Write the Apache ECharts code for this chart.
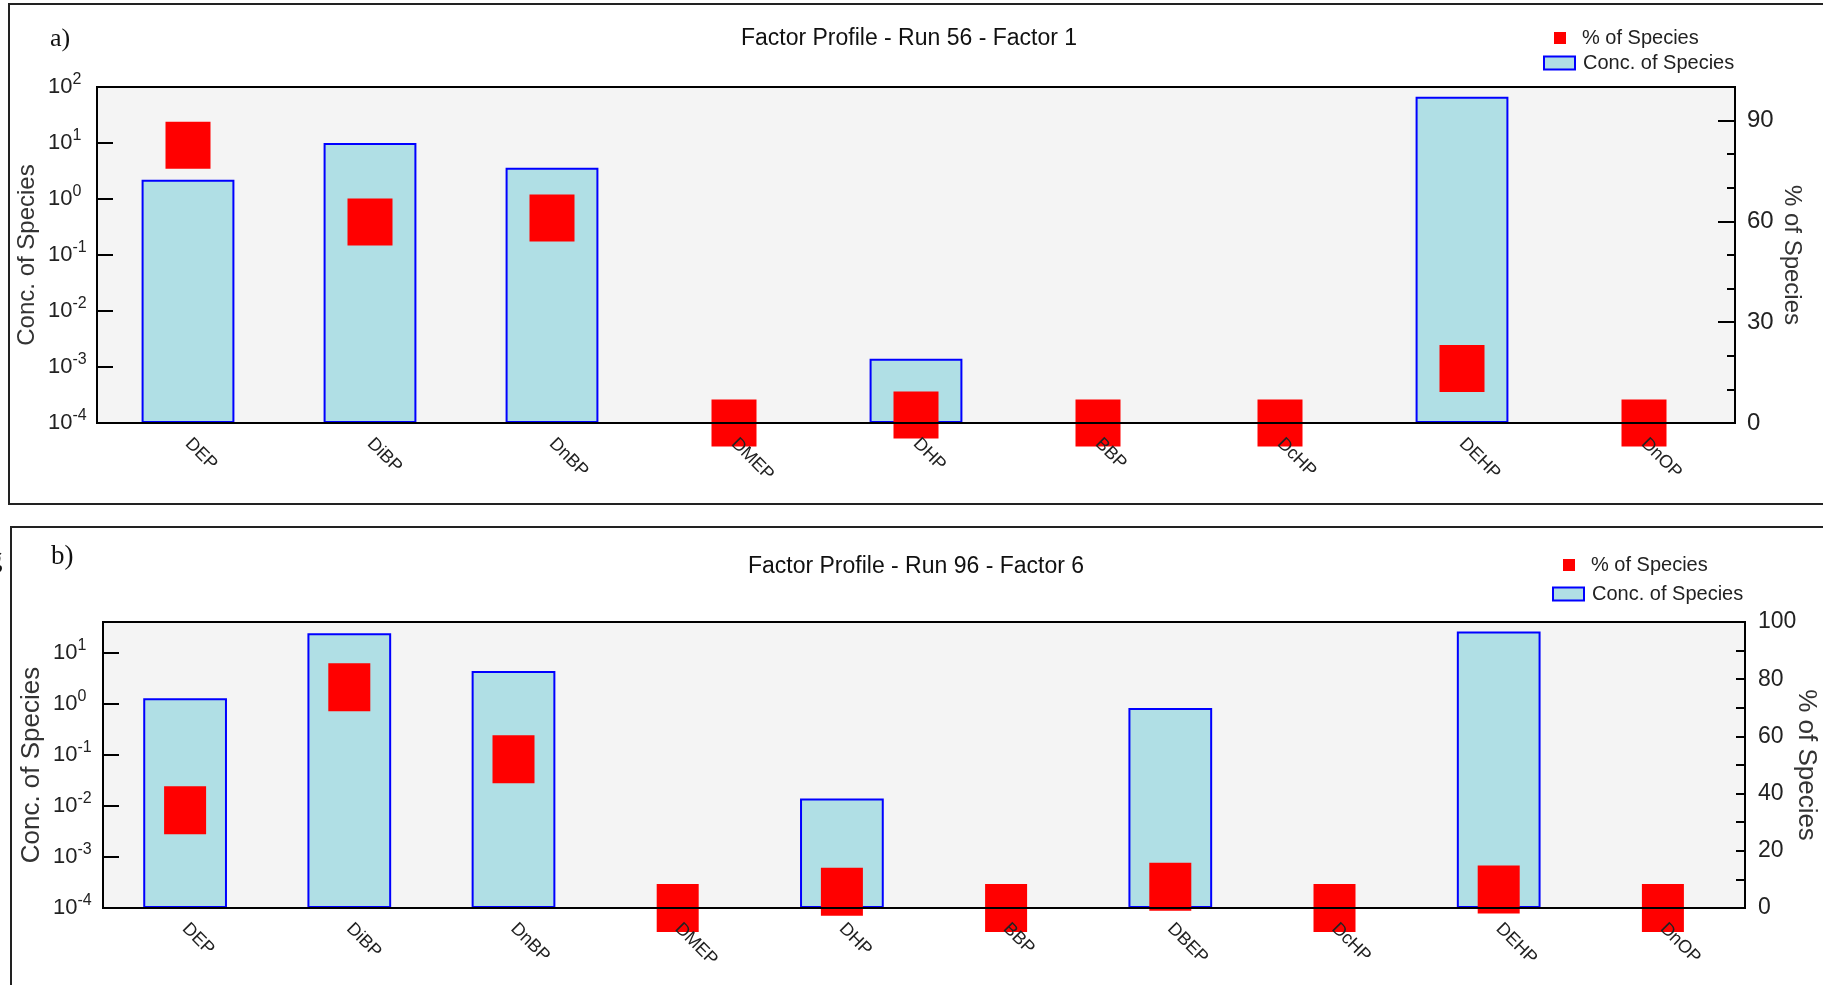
<!DOCTYPE html>
<html>
<head>
<meta charset="utf-8">
<script src="https://cdn.jsdelivr.net/npm/echarts@6/dist/echarts.min.js"></script>
<style>
html, body { margin: 0; padding: 0; background: #fff; }
#main { width: 1823px; height: 985px; }
</style>
</head>
<body>
<div id="main"></div>
<script>
// panel a) Run 56 - Factor 1
var speciesA = ['DEP', 'DiBP', 'DnBP', 'DMEP', 'DHP', 'BBP', 'DcHP', 'DEHP', 'DnOP'];
var concA = [2.2, 10, 3.6, null, 0.0014, null, null, 67, null];
var pctA = [82.7, 59.8, 61.0, 0, 2.4, 0, 0, 16.2, 0];

// panel b) Run 96 - Factor 6
var speciesB = ['DEP', 'DiBP', 'DnBP', 'DMEP', 'DHP', 'BBP', 'DBEP', 'DcHP', 'DEHP', 'DnOP'];
var concB = [1.28, 24, 4.4, null, 0.014, null, 0.83, null, 26, null];
var pctB = [34.2, 77.2, 52.0, 0, 5.7, 0, 7.4, 0, 6.5, 0];

var titleA = 'Factor Profile - Run 56 - Factor 1';
var titleB = 'Factor Profile - Run 96 - Factor 6';

var FONT = 'Liberation Sans';
var myChart = echarts.init(document.getElementById('main'));

// 10^n labels with a superscript exponent
function powLabel(v) {
    var e = Math.log(v) / Math.LN10;
    var r = Math.round(e);
    if (Math.abs(e - r) > 1e-6) return '';
    return '{b|10}{s|' + r + '}';
}

function catAxes(grid, data) {
    return [{
        type: 'category', gridIndex: grid, data: data, position: 'bottom', z: 10,
        axisLine: { lineStyle: { color: '#000', width: 2 } },
        axisTick: { inside: true, length: 9, alignWithLabel: true, interval: 0, lineStyle: { color: '#000', width: 1.5 } },
        axisLabel: { rotate: -45, interval: 0, fontSize: 18, color: '#222', margin: 18, fontFamily: FONT },
        splitLine: { show: false }
    }, {
        type: 'category', gridIndex: grid, data: data, position: 'bottom', z: 10,
        axisLine: { show: false },
        axisTick: { inside: false, length: 9, alignWithLabel: true, interval: 0, lineStyle: { color: '#000', width: 1.5 } },
        axisLabel: { show: false },
        splitLine: { show: false }
    }];
}

function logAxis(grid, max, nameSize, labelMargin) {
    return {
        type: 'log', logBase: 10, gridIndex: grid, position: 'left',
        min: 0.0001, max: max, startValue: 0.0001,
        name: 'Conc. of Species', nameLocation: 'middle', nameGap: 58, nameMoveOverlap: false,
        nameTextStyle: { fontSize: nameSize, color: '#333', fontFamily: FONT },
        axisLine: { show: true, lineStyle: { color: '#000', width: 2 } },
        axisTick: { show: true, inside: true, length: 16, lineStyle: { color: '#000', width: 2 } },
        axisLabel: {
            formatter: powLabel, margin: labelMargin, align: 'left', showMinLabel: true, showMaxLabel: true,
            rich: {
                b: { fontSize: 22, lineHeight: 30, color: '#222', fontFamily: FONT },
                s: { fontSize: 16, lineHeight: 15, verticalAlign: 'top', color: '#222', fontFamily: FONT }
            }
        },
        splitLine: { show: false }
    };
}

function pctAxis(grid, step, nameSize, nameGap, tickLen) {
    return {
        type: 'value', gridIndex: grid, position: 'right',
        min: 0, max: 100, interval: step,
        name: '% of Species', nameLocation: 'middle', nameRotate: -90, nameGap: nameGap, nameMoveOverlap: false,
        nameTextStyle: { fontSize: nameSize, color: '#333', fontFamily: FONT },
        axisLine: { show: true, lineStyle: { color: '#000', width: 2 } },
        axisTick: { show: true, inside: true, length: tickLen, lineStyle: { color: '#000', width: 2 } },
        axisLabel: { fontSize: 24, color: '#222', margin: 12, fontFamily: FONT },
        splitLine: { show: false }
    };
}

// panel a: labels every 30, short ticks every 10
var rightA = pctAxis(0, 30, 24, 45, 17);
rightA.axisLabel.formatter = function (v) { return (v % 30 === 0 && v < 100) ? v : ''; };
var minorA = {
    type: 'value', gridIndex: 0, position: 'right', min: 0, max: 100, interval: 10,
    axisLine: { show: false },
    axisTick: { show: true, inside: true, length: 8, lineStyle: { color: '#000', width: 2 } },
    axisLabel: { show: false }, splitLine: { show: false }
};
// panel b: labels every 20, ticks every 10
var rightB = pctAxis(1, 10, 26, 48, 9);
rightB.axisLabel.fontSize = 23;
rightB.axisLabel.margin = 13;
rightB.axisLabel.formatter = function (v) { return v % 20 === 0 ? v : ''; };

var barStyle = { color: '#b0dfe5', borderColor: '#0000ff', borderWidth: 2 };
var legendText = { fontSize: 20, lineHeight: 20, color: '#222', fontFamily: FONT };

function legends(x, y1, y2) {
    return [{
        data: ['% of Species'], left: x + 11, top: y1 - 10, icon: 'rect', itemWidth: 12, itemHeight: 12,
        padding: 0, selectedMode: false,
        textStyle: Object.assign({ padding: [0, 0, 0, 11] }, legendText)
    }, {
        data: ['Conc. of Species'], left: x, top: y2 - 10, icon: 'rect', itemWidth: 31, itemHeight: 13,
        padding: 0, selectedMode: false,
        itemStyle: { color: '#b0dfe5', borderColor: '#0000ff', borderWidth: 2 },
        textStyle: Object.assign({ padding: [0, 0, 0, 3] }, legendText)
    }];
}

option = {
    animation: false,
    backgroundColor: '#fff',
    textStyle: { fontFamily: FONT },
    graphic: [
        { type: 'rect', silent: true, shape: { x: 9, y: 4, width: 1850, height: 500 }, style: { fill: 'none', stroke: '#222', lineWidth: 2 } },
        { type: 'rect', silent: true, shape: { x: 11, y: 527, width: 1850, height: 500 }, style: { fill: 'none', stroke: '#222', lineWidth: 2 } },
        { type: 'text', x: 50, y: 39, style: { text: 'a)', font: '26px "Liberation Serif"', fill: '#111', textVerticalAlign: 'middle', verticalAlign: 'middle' } },
        { type: 'text', x: 51, y: 557, style: { text: 'b)', font: '27px "Liberation Serif"', fill: '#111', textVerticalAlign: 'middle', verticalAlign: 'middle' } },
        { type: 'text', x: -11, y: 560, style: { text: 'g', font: '27px "Liberation Serif"', fill: '#111', textVerticalAlign: 'middle', verticalAlign: 'middle' } },
        { type: 'text', x: 909, y: 39, style: { text: titleA, font: '23px "Liberation Sans"', fill: '#111', textAlign: 'center', align: 'center', textVerticalAlign: 'middle', verticalAlign: 'middle' } },
        { type: 'text', x: 916, y: 567, style: { text: titleB, font: '23px "Liberation Sans"', fill: '#111', textAlign: 'center', align: 'center', textVerticalAlign: 'middle', verticalAlign: 'middle' } }
    ],
    legend: legends(1543, 38, 63).concat(legends(1552, 565, 594)),
    grid: [
        { left: 97, top: 87, width: 1638, height: 336, show: true, backgroundColor: '#f4f4f4', borderColor: '#000', borderWidth: 2, outerBoundsMode: 'none' },
        { left: 103, top: 622, width: 1642, height: 286, show: true, backgroundColor: '#f4f4f4', borderColor: '#000', borderWidth: 2, outerBoundsMode: 'none' }
    ],
    xAxis: catAxes(0, speciesA).concat(catAxes(1, speciesB)),
    yAxis: [logAxis(0, 100, 24, 49), rightA, minorA, logAxis(1, 40, 26, 50), rightB],
    series: [
        { name: 'Conc. of Species', type: 'bar', xAxisIndex: 0, yAxisIndex: 0, data: concA, barWidth: '51%', itemStyle: barStyle, z: 2 },
        { name: '% of Species', type: 'scatter', xAxisIndex: 0, yAxisIndex: 1, data: pctA, symbol: 'rect', symbolSize: [45, 47], itemStyle: { color: '#ff0000', opacity: 1 }, z: 3 },
        { name: 'Conc. of Species', type: 'bar', xAxisIndex: 2, yAxisIndex: 3, data: concB, barWidth: '51%', itemStyle: barStyle, z: 2 },
        { name: '% of Species', type: 'scatter', xAxisIndex: 2, yAxisIndex: 4, data: pctB, symbol: 'rect', symbolSize: [42, 48], itemStyle: { color: '#ff0000', opacity: 1 }, z: 3 }
    ]
};
myChart.setOption(option);
</script>
</body>
</html>
